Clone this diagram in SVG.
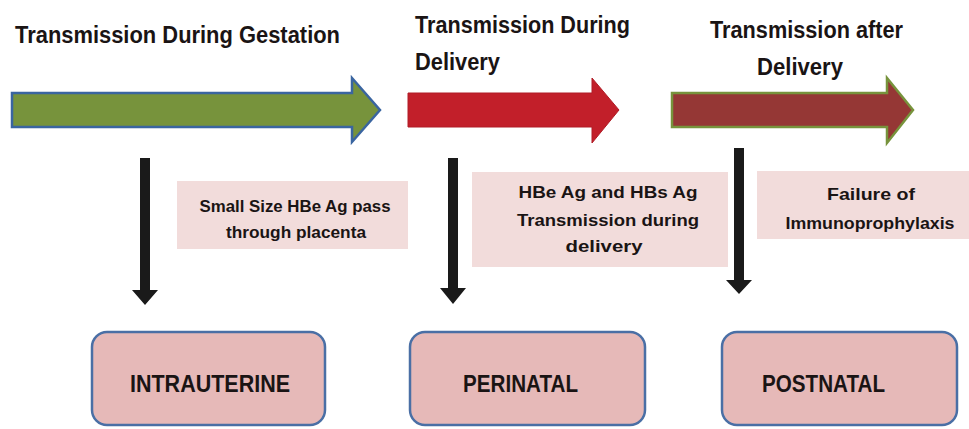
<svg xmlns="http://www.w3.org/2000/svg" width="969" height="429" viewBox="0 0 969 429">
<style>
text{font-family:"Liberation Sans",Arial,sans-serif;font-weight:bold;fill:#1a1414}
.hdr{font-size:23px}
.mid{font-size:17px;text-anchor:middle}
.lbl{font-size:24px}
.note{fill:#f2dcdb}
.out{fill:#e6b9b8;stroke:#4a6fa5;stroke-width:2.5}
.varr{fill:#1a1a1a}
</style>
<rect width="969" height="429" fill="#ffffff"/>
<g id="phase-gestation">
<text class="hdr" x="15" y="43" textLength="325" lengthAdjust="spacingAndGlyphs">Transmission During Gestation</text>
<path d="M12 93 H352 V78 L380 110 L352 142 V127 H12 Z" fill="#77933c" stroke="#3a65a0" stroke-width="2.5"/>
</g>
<g id="phase-delivery">
<text class="hdr" x="415" y="33" textLength="215" lengthAdjust="spacingAndGlyphs">Transmission During</text>
<text class="hdr" x="415" y="70" textLength="85" lengthAdjust="spacingAndGlyphs">Delivery</text>
<path d="M408 93 H592 V78 L619 110 L592 143 V127 H408 Z" fill="#c21f2a" stroke="#b01c26" stroke-width="1"/>
</g>
<g id="phase-after">
<text class="hdr" x="710" y="38" textLength="193" lengthAdjust="spacingAndGlyphs">Transmission after</text>
<text class="hdr" x="757" y="75" textLength="86" lengthAdjust="spacingAndGlyphs">Delivery</text>
<path d="M672 93 H887 V78 L913 110 L887 143 V127 H672 Z" fill="#953735" stroke="#77933c" stroke-width="2.5"/>
</g>
<g id="note-gestation">
<rect class="note" x="177" y="181" width="231" height="68"/>
<text class="mid" x="295" y="212" textLength="191" lengthAdjust="spacingAndGlyphs">Small Size HBe Ag pass</text>
<text class="mid" x="296" y="238" textLength="140" lengthAdjust="spacingAndGlyphs">through placenta</text>
</g>
<g id="note-delivery">
<rect class="note" x="472" y="172" width="256" height="95"/>
<text class="mid" x="608" y="198" textLength="179" lengthAdjust="spacingAndGlyphs">HBe Ag and HBs Ag</text>
<text class="mid" x="608" y="226" textLength="182" lengthAdjust="spacingAndGlyphs">Transmission during</text>
<text class="mid" x="604" y="252" textLength="77" lengthAdjust="spacingAndGlyphs">delivery</text>
</g>
<g id="note-after">
<rect class="note" x="757" y="171" width="212" height="68"/>
<text class="mid" x="871" y="200" textLength="88" lengthAdjust="spacingAndGlyphs">Failure of</text>
<text class="mid" x="870" y="229" textLength="169" lengthAdjust="spacingAndGlyphs">Immunoprophylaxis</text>
</g>
<g id="connectors">
<path class="varr" d="M140 158 H150 V290 H158 L145 305 L132 290 H140 Z"/>
<path class="varr" d="M448 158 H458 V288 H466 L453 304 L440 288 H448 Z"/>
<path class="varr" d="M734 148 H744 V280 H752 L739 294 L726 280 H734 Z"/>
</g>
<g id="intrauterine">
<rect class="out" x="92" y="332" width="233" height="93" rx="15"/>
<text class="lbl" x="130" y="392" textLength="160" lengthAdjust="spacingAndGlyphs">INTRAUTERINE</text>
</g>
<g id="perinatal">
<rect class="out" x="410" y="332" width="235" height="93" rx="15"/>
<text class="lbl" x="463" y="392" textLength="115" lengthAdjust="spacingAndGlyphs">PERINATAL</text>
</g>
<g id="postnatal">
<rect class="out" x="722" y="332" width="235" height="93" rx="15"/>
<text class="lbl" x="762" y="392" textLength="123" lengthAdjust="spacingAndGlyphs">POSTNATAL</text>
</g>
</svg>
